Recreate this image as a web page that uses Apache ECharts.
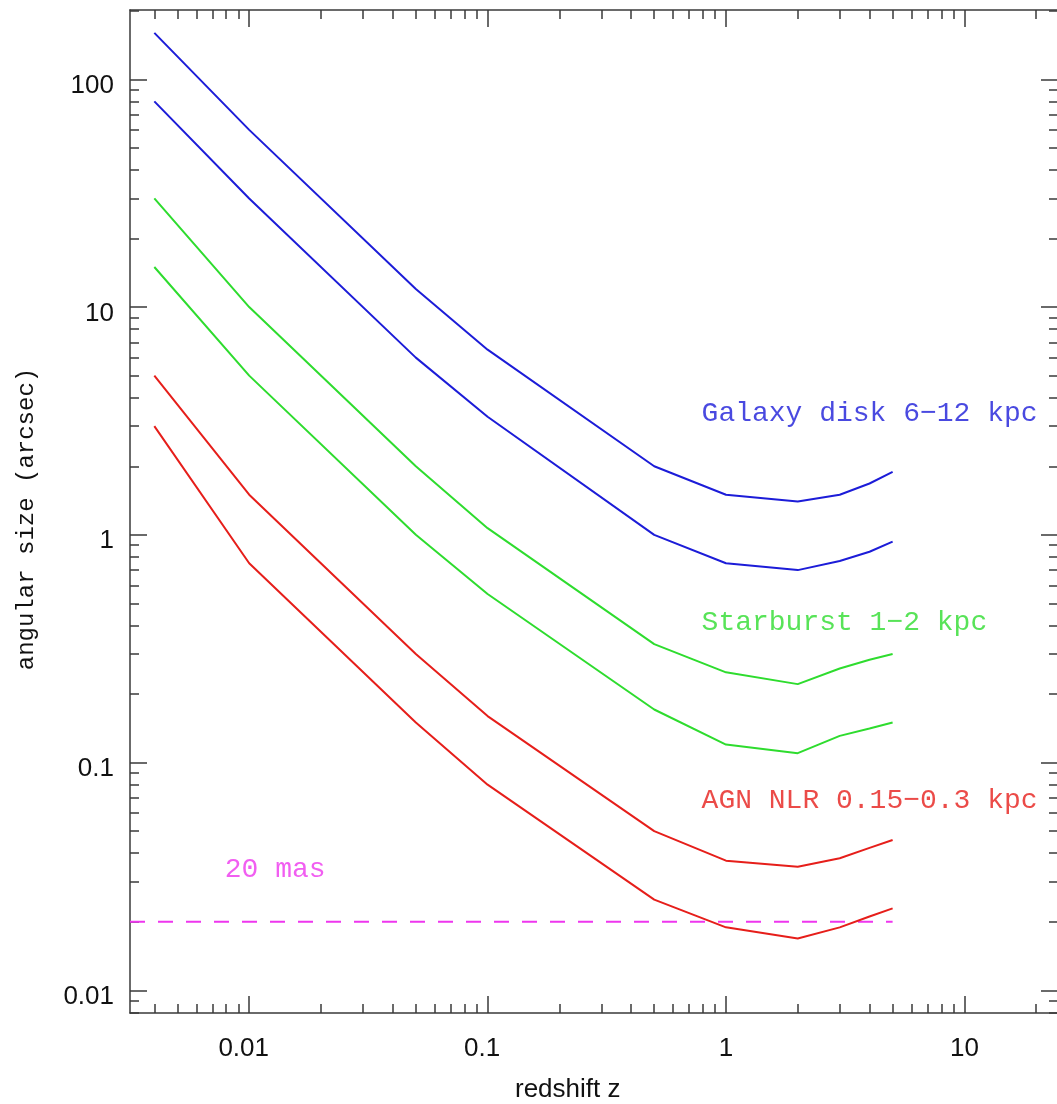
<!DOCTYPE html>
<html>
<head>
<meta charset="utf-8">
<script src="https://cdn.jsdelivr.net/npm/echarts@6/dist/echarts.min.js"></script>
<style>
  html, body { margin: 0; padding: 0; background: #ffffff; }
  #chart { width: 1057px; height: 1104px; }
</style>
</head>
<body>
<div id="chart"></div>
<script>
// Redshift sampling shared by every curve
const redshift = [0.004, 0.01, 0.05, 0.1, 0.5, 1, 2, 3, 4, 5];

// Angular size (arcsec) of each physical scale versus redshift
const galaxyDisk12 = [160, 60, 12, 6.5, 2.0, 1.5, 1.4, 1.5, 1.68, 1.89];
const galaxyDisk6  = [80, 30, 6.0, 3.3, 1.0, 0.75, 0.70, 0.767, 0.843, 0.933];
const starburst2   = [30, 10, 2.0, 1.07, 0.331, 0.249, 0.221, 0.259, 0.283, 0.300];
const starburst1   = [15, 5.0, 1.0, 0.55, 0.171, 0.120, 0.110, 0.131, 0.141, 0.150];
const agnNlr03     = [5.0, 1.5, 0.30, 0.16, 0.050, 0.0371, 0.0349, 0.0380, 0.0422, 0.0457];
const agnNlr015    = [3.0, 0.75, 0.15, 0.080, 0.025, 0.0189, 0.0169, 0.0189, 0.0211, 0.0229];

// 20 mas resolution limit, drawn up to z = 5
const resolutionLimit = 0.02;
const resolutionEndZ = 5;

// Axis ticks and labels
const xMajorTicks = [0.01, 0.1, 1, 10];
const xTickLabels = ['0.01', '0.1', '1', '10'];
const xMinorTicks = [0.004, 0.005, 0.006, 0.007, 0.008, 0.009,
                     0.02, 0.03, 0.04, 0.05, 0.06, 0.07, 0.08, 0.09,
                     0.2, 0.3, 0.4, 0.5, 0.6, 0.7, 0.8, 0.9,
                     2, 3, 4, 5, 6, 7, 8, 9, 20];
const yMajorTicks = [0.01, 0.1, 1, 10, 100];
const yTickLabels = ['0.01', '0.1', '1', '10', '100'];
const yMinorTicks = [0.008, 0.009,
                     0.02, 0.03, 0.04, 0.05, 0.06, 0.07, 0.08, 0.09,
                     0.2, 0.3, 0.4, 0.5, 0.6, 0.7, 0.8, 0.9,
                     2, 3, 4, 5, 6, 7, 8, 9,
                     20, 30, 40, 50, 60, 70, 80, 90, 200];

// Axis extents
const zMin = Math.pow(10, -2.5);
const zMax = 24.7;
const sizeMin = 0.00795;
const sizeMax = 201.6;

const FRAME = '#3a3a3a';
const BLUE = '#1c1cd8';
const GREEN = '#2edc2e';
const RED = '#e61e1a';
const MAGENTA = '#ee36ee';
const TICK_FONT = '"Liberation Sans", Arial, sans-serif';
const NOTE_FONT = '"Liberation Mono", "DejaVu Sans Mono", monospace';

function pair(xs, ys) { return xs.map((x, i) => [x, ys[i]]); }

function labelFor(v, ticks, labels) {
  const i = ticks.findIndex(t => Math.abs(Math.log10(t) - Math.log10(v)) < 1e-6);
  return i < 0 ? '' : labels[i];
}

function frameAxis(opts) {
  const { position, ticks, tickLen, labels, line, min, max } = opts;
  return {
    type: 'log',
    logBase: 10,
    min: min,
    max: max,
    position: position,
    splitLine: { show: false },
    axisLine: { show: !!line, onZero: false, lineStyle: { color: FRAME, width: 1.5 } },
    axisTick: {
      show: true, inside: true, length: tickLen,
      customValues: ticks,
      lineStyle: { color: FRAME, width: 1.5 }
    },
    axisLabel: labels ? labels : { show: false },
    minorTick: { show: false },
    minorSplitLine: { show: false }
  };
}

const xLabelStyle = {
  show: true,
  customValues: xMajorTicks,
  margin: 23,
  fontFamily: TICK_FONT,
  fontSize: 26,
  color: '#111',
  formatter: v => {
    const s = labelFor(v, xMajorTicks, xTickLabels);
    return v < 1 ? '{dec|' + s + '}' : s;
  },
  rich: { dec: { fontFamily: TICK_FONT, fontSize: 26, color: '#111', padding: [0, 11, 0, 0] } }
};

const yLabelStyle = {
  show: true,
  customValues: yMajorTicks,
  margin: 16,
  fontFamily: TICK_FONT,
  fontSize: 26,
  color: '#111',
  formatter: v => '{v|' + labelFor(v, yMajorTicks, yTickLabels) + '}',
  rich: { v: { fontFamily: TICK_FONT, fontSize: 26, color: '#111', padding: [13, 0, 0, 0] } }
};

const xr = { min: zMin, max: zMax };
const yr = { min: sizeMin, max: sizeMax };

const curve = (name, ys, color) => ({
  name: name,
  type: 'line',
  xAxisIndex: 0,
  yAxisIndex: 0,
  data: pair(redshift, ys),
  showSymbol: false,
  symbol: 'none',
  lineStyle: { color: color, width: 2 },
  itemStyle: { color: color },
  silent: true,
  z: 3
});

const note = (x, y, text, color) => ({
  value: [x, y],
  label: { formatter: text, color: color }
});

const option = {
  animation: false,
  backgroundColor: '#ffffff',
  grid: { left: 130, right: -1, top: 10, bottom: 91, containLabel: false, outerBoundsMode: 'none' },
  xAxis: [
    frameAxis(Object.assign({ position: 'bottom', ticks: xMajorTicks, tickLen: 17, labels: xLabelStyle, line: true }, xr)),
    frameAxis(Object.assign({ position: 'bottom', ticks: xMinorTicks, tickLen: 9 }, xr)),
    frameAxis(Object.assign({ position: 'top', ticks: xMajorTicks, tickLen: 17, line: true }, xr)),
    frameAxis(Object.assign({ position: 'top', ticks: xMinorTicks, tickLen: 9 }, xr))
  ],
  yAxis: [
    frameAxis(Object.assign({ position: 'left', ticks: yMajorTicks, tickLen: 17, labels: yLabelStyle, line: true }, yr)),
    frameAxis(Object.assign({ position: 'left', ticks: yMinorTicks, tickLen: 9 }, yr)),
    frameAxis(Object.assign({ position: 'right', ticks: yMajorTicks, tickLen: 17, line: true }, yr)),
    frameAxis(Object.assign({ position: 'right', ticks: yMinorTicks, tickLen: 9 }, yr))
  ],
  series: [
    curve('Galaxy disk 12 kpc', galaxyDisk12, BLUE),
    curve('Galaxy disk 6 kpc', galaxyDisk6, BLUE),
    curve('Starburst 2 kpc', starburst2, GREEN),
    curve('Starburst 1 kpc', starburst1, GREEN),
    curve('AGN NLR 0.3 kpc', agnNlr03, RED),
    curve('AGN NLR 0.15 kpc', agnNlr015, RED),
    {
      name: '20 mas',
      type: 'line',
      xAxisIndex: 0,
      yAxisIndex: 0,
      data: [[zMin, resolutionLimit], [resolutionEndZ, resolutionLimit]],
      showSymbol: false,
      symbol: 'none',
      lineStyle: { color: MAGENTA, width: 2, type: [15, 13] },
      silent: true,
      z: 2
    },
    {
      name: 'labels',
      type: 'scatter',
      xAxisIndex: 0,
      yAxisIndex: 0,
      symbolSize: 0,
      silent: true,
      label: {
        show: true,
        position: 'right',
        distance: 0,
        fontFamily: NOTE_FONT,
        fontSize: 28
      },
      data: [
        note(0.79, 3.42, 'Galaxy disk 6\u221212 kpc', BLUE),
        note(0.79, 0.413, 'Starburst 1\u22122 kpc', GREEN),
        note(0.79, 0.0679, 'AGN NLR 0.15\u22120.3 kpc', RED),
        note(0.0079, 0.034, '20 mas', MAGENTA)
      ]
    }
  ],
  graphic: [
    {
      type: 'text',
      left: 572 - 57,
      top: 1077,
      style: {
        text: 'redshift z',
        font: '26px "Liberation Sans", Arial, sans-serif',
        fill: '#111'
      }
    },
    {
      type: 'text',
      x: 27,
      y: 519,
      rotation: Math.PI / 2,
      style: {
        text: 'angular size (arcsec)',
        font: '24px "Liberation Mono", monospace',
        fill: '#111',
        align: 'center',
        verticalAlign: 'middle'
      }
    }
  ]
};

const chart = echarts.init(document.getElementById('chart'), null, { renderer: 'canvas' });
chart.setOption(option);
</script>
</body>
</html>
